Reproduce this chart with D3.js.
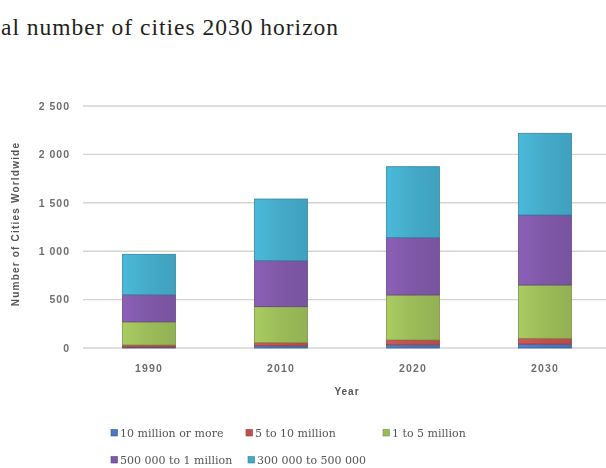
<!DOCTYPE html>
<html>
<head>
<meta charset="utf-8">
<script src="https://cdn.jsdelivr.net/npm/d3@7"></script>
<style>
  html, body { margin: 0; padding: 0; background: #fff; }
  svg { display: block; }
</style>
</head>
<body>
<script>
// Number of cities by size class, per year
const years = ["1990", "2010", "2020", "2030"];
const sizeClasses = ["10 million or more", "5 to 10 million", "1 to 5 million", "500 000 to 1 million", "300 000 to 500 000"];
const megacities   = [10, 23, 33, 41];
const large        = [21, 32, 50, 59];
const medium       = [239, 372, 465, 551];
const smallMedium  = [280, 475, 592, 723];
const small        = [418, 637, 733, 844];
const seriesValues = [megacities, large, medium, smallMedium, small];
const yTicks = [0, 500, 1000, 1500, 2000, 2500];
const colors = ["#4a78bf", "#c0504d", "#9bbb59", "#7f58a8", "#44aac8"];

const W = 606, H = 468;
const svg = d3.select("body").append("svg").attr("width", W).attr("height", H);

const defs = svg.append("defs");
colors.forEach((c, i) => {
  const g = defs.append("linearGradient").attr("id", "g" + i)
    .attr("x1", "0%").attr("x2", "100%").attr("y1", "0%").attr("y2", "0%");
  g.append("stop").attr("offset", "0%").attr("stop-color", d3.color(c).brighter(0.25));
  g.append("stop").attr("offset", "50%").attr("stop-color", c);
  g.append("stop").attr("offset", "100%").attr("stop-color", d3.color(c).darker(0.15));
});
defs.append("filter").attr("id", "soft").append("feGaussianBlur").attr("stdDeviation", 0.45);

const sans = "'Liberation Sans', Arial, sans-serif";

// Title
svg.append("text")
  .attr("x", 1).attr("y", 35)
  .attr("font-family", "'Liberation Serif', 'DejaVu Serif', serif")
  .attr("font-size", 23.5)
  .attr("letter-spacing", 1)
  .attr("fill", "#231f20")
  .text("al number of cities 2030 horizon");

const chart = svg.append("g").attr("filter", "url(#soft)");

const x = d3.scaleBand().domain(years).range([83, 611]).paddingInner(0.6).paddingOuter(0.3);
const y = d3.scaleLinear().domain([0, 2500]).range([348, 106]);

// Gridlines
chart.append("g").selectAll("line").data(yTicks).join("line")
  .attr("x1", 83).attr("x2", W)
  .attr("y1", d => y(d)).attr("y2", d => y(d))
  .attr("stroke", "#d4d4d4").attr("stroke-width", 1.4);

// Y axis labels
const yAxis = d3.axisLeft(y).tickValues(yTicks).tickSize(0).tickPadding(0)
  .tickFormat(d => d3.format(",")(d).replace(",", " "));
const yg = chart.append("g").attr("transform", "translate(70,0)").call(yAxis);
yg.select(".domain").remove();
yg.selectAll("text")
  .attr("font-family", sans)
  .attr("font-size", 10.5).attr("font-weight", "bold").attr("letter-spacing", 1)
  .attr("fill", "#6e6e6e");

// Stacked bars
const table = years.map((yr, i) => {
  const row = { year: yr };
  sizeClasses.forEach((s, k) => { row[s] = seriesValues[k][i]; });
  return row;
});
const stacked = d3.stack().keys(sizeClasses)(table);

chart.append("g").selectAll("g").data(stacked).join("g")
  .attr("fill", (d, i) => `url(#g${i})`)
  .attr("stroke", (d, i) => d3.color(colors[i]).darker(0.7))
  .attr("stroke-width", 0.8)
  .selectAll("rect").data(d => d).join("rect")
  .attr("x", d => x(d.data.year))
  .attr("width", x.bandwidth())
  .attr("y", d => y(d[1]))
  .attr("height", d => y(d[0]) - y(d[1]));

// X axis labels
const xAxis = d3.axisBottom(x).tickSize(0).tickPadding(0);
const xg = chart.append("g").attr("transform", "translate(0,372)").call(xAxis);
xg.select(".domain").remove();
xg.selectAll("text").attr("dy", 0)
  .attr("font-family", sans)
  .attr("font-size", 10.5).attr("font-weight", "bold").attr("letter-spacing", 1.2)
  .attr("fill", "#6e6e6e");

// Axis titles
chart.append("text")
  .attr("x", 347).attr("y", 395).attr("text-anchor", "middle")
  .attr("font-family", sans)
  .attr("font-size", 10).attr("font-weight", "bold").attr("letter-spacing", 1)
  .attr("fill", "#555")
  .text("Year");
chart.append("text")
  .attr("transform", "translate(19,224) rotate(-90)").attr("text-anchor", "middle")
  .attr("font-family", sans)
  .attr("font-size", 10).attr("font-weight", "bold").attr("letter-spacing", 1.2)
  .attr("fill", "#555")
  .text("Number of Cities Worldwide");

// Legend
const legendPos = [[111, 433], [246, 433], [383, 433], [111, 460], [248, 460]];
const lg = chart.append("g").selectAll("g").data(sizeClasses).join("g")
  .attr("transform", (d, i) => `translate(${legendPos[i][0]},${legendPos[i][1]})`);
lg.append("rect").attr("x", 0).attr("y", -3.5).attr("width", 6.5).attr("height", 6.5)
  .attr("fill", (d, i) => colors[i])
  .attr("stroke", (d, i) => d3.color(colors[i]).darker(0.7)).attr("stroke-width", 0.6);
lg.append("text").attr("x", 9).attr("y", 3.8)
  .attr("font-family", "'DejaVu Serif', serif")
  .attr("font-size", 11).attr("fill", "#555")
  .text(d => d);
</script>
</body>
</html>
